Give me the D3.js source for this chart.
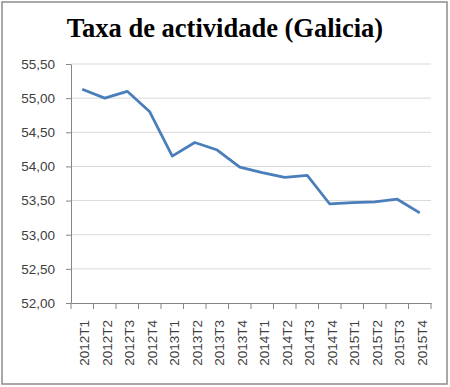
<!DOCTYPE html>
<html>
<head>
<meta charset="utf-8">
<script src="https://cdn.jsdelivr.net/npm/d3@7"></script>
<style>
  body { margin: 0; background: #fff; }
  .axis text { font-family: "Liberation Sans", Arial, sans-serif; font-size: 13.5px; fill: #404040; }
  .axis path, .axis line { stroke: #868686; }
</style>
</head>
<body>
<div class="chartContainer"></div>
<script>
//chart data
const quarters = ['2012T1','2012T2','2012T3','2012T4','2013T1','2013T2','2013T3','2013T4',
                  '2014T1','2014T2','2014T3','2014T4','2015T1','2015T2','2015T3','2015T4'];
const rates = [55.13, 55.00, 55.10, 54.80, 54.15, 54.35, 54.24, 53.99,
               53.91, 53.84, 53.87, 53.45, 53.47, 53.48, 53.52, 53.32];
const yTicks = [52, 52.5, 53, 53.5, 54, 54.5, 55, 55.5];
const title = 'Taxa de actividade (Galicia)';

const width = 450, height = 387;
const margin = {top: 64, right: 19, bottom: 84, left: 71};
const chartWidth = width - margin.left - margin.right;
const chartHeight = height - margin.top - margin.bottom;

const svg = d3.select('.chartContainer')
    .append('svg')
    .attr('width', width)
    .attr('height', height);

//outer frame
svg.append('rect')
    .attr('x', 2).attr('y', 2)
    .attr('width', 445).attr('height', 382)
    .attr('fill', '#fff')
    .attr('stroke', '#8c8c8c')
    .attr('stroke-width', 1.5);

//title
svg.append('text')
    .attr('x', 225)
    .attr('y', 37)
    .attr('text-anchor', 'middle')
    .style('font-family', '"Liberation Serif", "DejaVu Serif", serif')
    .style('font-weight', 'bold')
    .style('font-size', '26.5px')
    .style('fill', '#000')
    .text(title);

const g = svg.append('g')
    .attr('transform', `translate(${margin.left}, ${margin.top})`);

const xScale = d3.scaleBand()
    .domain(quarters)
    .range([0, chartWidth]);

const yScale = d3.scaleLinear()
    .domain([52, 55.5])
    .range([chartHeight, 0]);

//gridlines
g.append('g')
    .selectAll('line')
    .data(yTicks.filter(d => d > 52))
    .enter()
    .append('line')
    .attr('x1', 0)
    .attr('x2', chartWidth)
    .attr('y1', d => yScale(d))
    .attr('y2', d => yScale(d))
    .attr('stroke', '#d9d9d9')
    .attr('stroke-width', 1);

//y axis
const yAxis = d3.axisLeft(yScale)
    .tickValues(yTicks)
    .tickFormat(d => d3.format('.2f')(d).replace('.', ','))
    .tickSizeInner(5)
    .tickSizeOuter(0)
    .tickPadding(11);

g.append('g')
    .attr('class', 'axis y')
    .call(yAxis);

//x axis - ticks between categories
const xAxis = d3.axisBottom(xScale)
    .tickSize(0)
    .tickPadding(18);

const xAxisDraw = g.append('g')
    .attr('class', 'axis x')
    .attr('transform', `translate(0, ${chartHeight})`)
    .call(xAxis);

xAxisDraw.selectAll('text')
    .attr('transform', 'rotate(-90)')
    .attr('text-anchor', 'end')
    .attr('x', -17)
    .attr('y', 0)
    .attr('dy', '0.5em');

xAxisDraw.selectAll('.boundary')
    .data(d3.range(quarters.length + 1))
    .enter()
    .append('line')
    .attr('class', 'boundary')
    .attr('x1', i => i * xScale.bandwidth())
    .attr('x2', i => i * xScale.bandwidth())
    .attr('y1', 0)
    .attr('y2', 6);

//line
const line = d3.line()
    .x((d, i) => xScale(quarters[i]) + xScale.bandwidth() / 2)
    .y(d => yScale(d));

g.append('path')
    .datum(rates)
    .attr('d', line)
    .attr('fill', 'none')
    .attr('stroke', '#4a7ebb')
    .attr('stroke-width', 2.75)
    .attr('stroke-linejoin', 'round');
</script>
</body>
</html>
